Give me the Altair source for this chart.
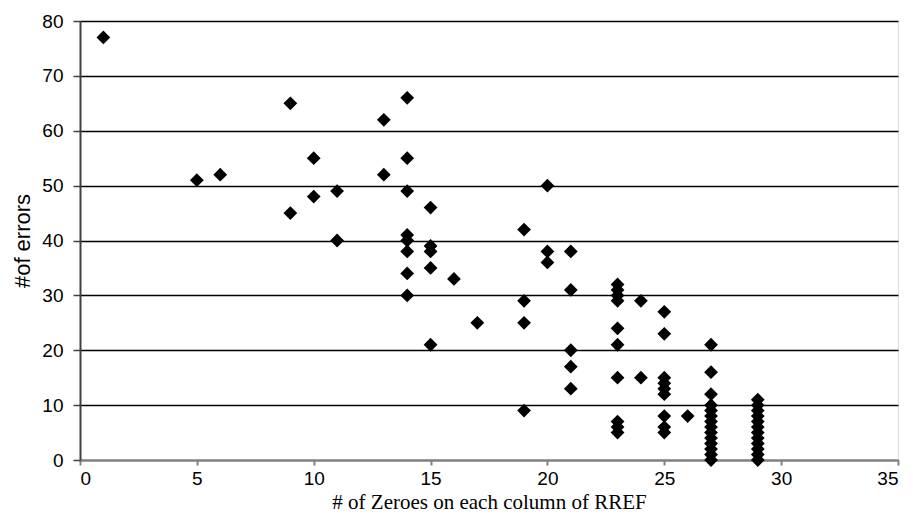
import altair as alt
import pandas as pd

zeroes = [1, 5, 6, 9, 9, 10, 10, 11, 11, 13, 13,
          14, 14, 14, 14, 14, 14, 14, 14,
          15, 15, 15, 15, 15, 16, 17,
          19, 19, 19, 19, 20, 20, 20,
          21, 21, 21, 21, 21,
          23, 23, 23, 23, 23, 23, 23, 23, 23, 23,
          24, 24,
          25, 25, 25, 25, 25, 25, 25, 25, 25,
          26,
          27, 27, 27, 27, 27, 27, 27, 27, 27, 27, 27, 27, 27, 27,
          29, 29, 29, 29, 29, 29, 29, 29, 29, 29, 29, 29]
errors = [77, 51, 52, 65, 45, 55, 48, 49, 40, 62, 52,
          66, 55, 49, 41, 40, 38, 34, 30,
          46, 39, 38, 35, 21, 33, 25,
          42, 29, 25, 9, 50, 38, 36,
          38, 31, 20, 17, 13,
          32, 31, 30, 29, 24, 21, 15, 7, 6, 5,
          29, 15,
          27, 23, 15, 14, 13, 12, 8, 6, 5,
          8,
          21, 16, 12, 10, 9, 8, 7, 6, 5, 4, 3, 2, 1, 0,
          11, 10, 9, 8, 7, 6, 5, 4, 3, 2, 1, 0]

df = pd.DataFrame({"zeroes": zeroes, "errors": errors})

chart = alt.Chart(df).mark_point(
    shape="diamond", filled=True, color="black", size=190, opacity=1
).encode(
    x=alt.X("zeroes:Q",
            scale=alt.Scale(domain=[0, 35], nice=False),
            axis=alt.Axis(title="# of Zeroes on each column of RREF",
                          values=[0, 5, 10, 15, 20, 25, 30, 35],
                          grid=False, domain=True, domainColor="#808080",
                          domainWidth=2, tickColor="#808080", tickSize=5,
                          tickWidth=2,
                          labelFont="Liberation Sans", labelFontSize=19,
                          labelColor="black", labelPadding=4,
                          titleFont="Liberation Serif", titleFontSize=21,
                          titleFontWeight="normal", titleColor="black",
                          titleBaseline="alphabetic", titleY=48)),
    y=alt.Y("errors:Q",
            scale=alt.Scale(domain=[0, 80], nice=False),
            axis=alt.Axis(title="#of errors",
                          values=[0, 10, 20, 30, 40, 50, 60, 70, 80],
                          grid=True, gridColor="black", gridWidth=1.5,
                          domain=True, domainColor="#404040", domainWidth=2,
                          tickColor="#404040", tickSize=7, tickWidth=1.5,
                          labelFont="Liberation Sans", labelFontSize=19,
                          labelColor="black", labelPadding=10,
                          titleFont="Liberation Sans", titleFontSize=22,
                          titleFontWeight="normal", titleColor="black",
                          titlePadding=7)),
).properties(
    width=818, height=439,
    autosize="none",
    padding={"left": 72, "top": 13, "right": 7, "bottom": 54},
).configure_view(
    stroke="#909090", strokeWidth=2
).configure(background="white")

chart.save("out.html", embed_options={"renderer": "svg", "actions": False})
